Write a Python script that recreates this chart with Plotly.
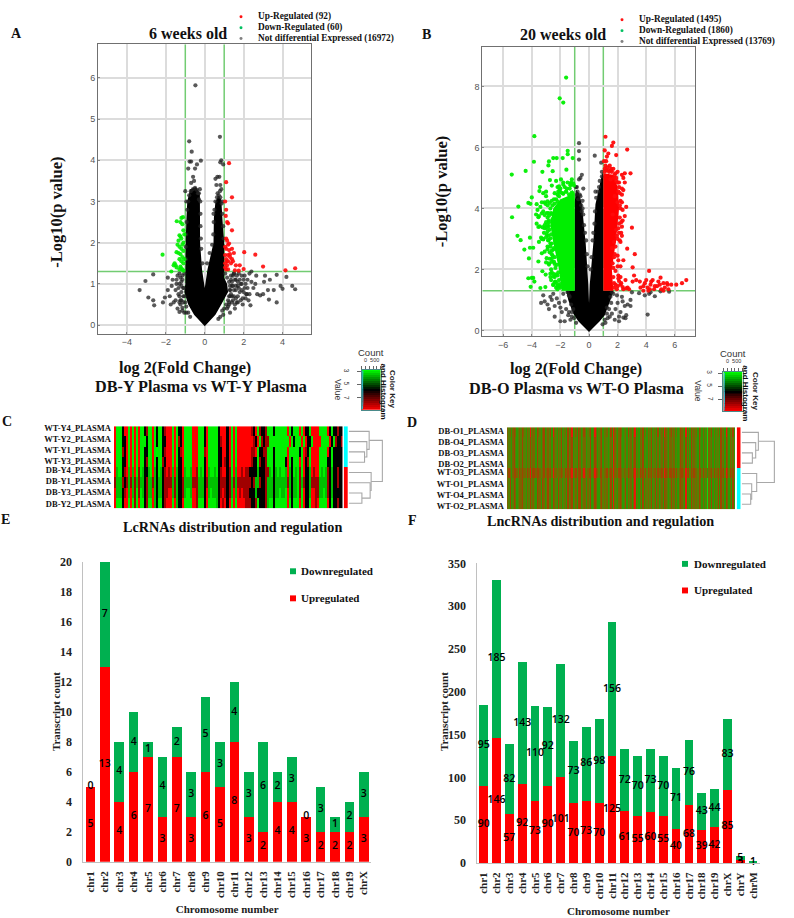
import plotly.graph_objects as go

W, H = 794, 918
SERIF = "Liberation Serif"
SANS = "Liberation Sans"

# ---------- volcano A ----------
A_cloud_x = [0,-0.55,-0.85,-1.05,-1.0,-1.0,-0.98,-0.95,-0.9,-0.75,-0.45,-0.25,-0.25,-0.24,-0.14,0,0.14,0.3,0.45,0.47,0.55,0.7,0.85,0.92,1.0,1.0,1.0,1.15,1.2,0.85,0.55,0]
A_cloud_y = [-0.03,0.25,0.5,0.8,1.0,1.3,2.0,2.5,3.0,3.3,3.35,3.2,2.6,2.0,1.35,0.9,1.35,1.7,2.0,2.6,3.0,3.15,3.05,2.5,2.0,1.3,1.15,1.0,0.8,0.5,0.25,-0.03]
A_up_x = [1.25,1.1,1.4,1.05,1.1,1.08,1.15,1.2,1.4,1.1,1.15,1.2,1.05,1.1,1.25,1.4,1.5,2.03,2.6,3.0,4.65,4.15,1.05,1.2,1.3,1.1,1.4,1.2,1.05,1.15,1.35,1.8,2.0,1.55,1.75,1.1,1.2,1.05,1.25,1.3,1.45,1.15,1.6]
A_up_y = [3.93,3.47,3.1,3.0,2.8,2.65,2.5,2.47,2.3,2.1,2.05,1.95,1.9,1.85,1.82,1.85,1.75,1.77,1.71,1.42,1.38,1.33,1.7,1.7,1.65,1.6,1.6,1.55,1.5,1.45,1.5,1.45,1.36,1.33,1.32,1.35,1.35,1.4,1.98,1.72,1.55,1.55,1.45]
A_down_x = [-2.17,-1.44,-1.2,-1.12,-1.25,-1.15,-1.1,-1.3,-1.25,-1.2,-1.35,-1.1,-1.4,-1.3,-1.2,-1.1,-1.45,-1.35,-1.25,-1.15,-1.3,-1.2,-1.1,-1.55,-1.5,-1.45,-1.25,-1.15,-1.6,-1.72,-1.3,-1.1,-1.05,-1.05,-1.15,-1.22]
A_down_y = [1.71,2.52,2.6,2.62,2.5,2.45,2.3,2.18,2.15,2.1,2.05,2.0,1.95,1.9,1.85,1.8,1.77,1.75,1.72,1.65,1.6,1.55,1.5,1.5,1.45,1.4,1.42,1.35,1.45,1.3,1.35,1.32,2.2,1.6,1.95,1.38]
A_ns_x = [-0.48,-0.8,-0.67,0.78,-0.78,-0.7,-0.2,0.85,0.8,-0.4,0.95,-0.85,-0.5,0.65,0.75,0.55,-0.6,-0.55,-0.7,0.8,-0.25,-1.0,0.85,-0.35,-0.95,0.6,0.9,-0.3,
          -3.35,-3.05,-2.65,-2.9,-2.65,-2.6,-2.15,-2.05,-1.9,-1.9,-1.8,-1.75,-1.6,-1.5,-1.4,-1.3,-1.65,-1.4,-1.3,-1.2,-1.5,-1.25,-1.15,-1.1,-1.35,-1.2,-1.45,-1.7,-1.15,-1.3,-1.1,-1.25,
          4.65,4.5,4.2,4.0,3.9,3.7,3.7,3.55,3.35,3.3,3.25,3.1,3.05,3.0,2.85,2.65,2.35,2.4,2.2,2.0,1.8,1.6,1.4,2.6,2.7,2.5,2.3,2.2,2.1,2.0,1.9,1.85,1.7,1.6,1.5,1.45,1.35,1.3,2.4,2.25,2.05,1.95,1.75,1.6,1.5,1.4,1.3,1.85,2.15,2.3,1.25,1.2,1.3,1.55,1.4,1.65,1.75]
A_ns_y = [5.82,4.46,4.21,4.57,3.97,3.97,3.99,4.0,3.95,3.9,3.9,3.8,3.8,3.6,3.6,3.55,3.6,3.5,3.45,3.4,3.3,3.25,3.3,3.2,3.0,3.4,3.0,3.05,
          0.85,1.07,1.23,0.67,0.6,0.48,0.55,0.67,1.15,0.85,0.7,0.5,0.55,0.85,0.4,0.32,1.1,1.2,1.0,0.8,0.6,0.5,0.42,0.7,0.75,0.95,1.0,0.95,1.1,1.25,0.9,0.6,
          0.87,0.95,1.17,0.88,0.95,1.22,0.55,0.85,1.1,0.62,0.85,1.2,1.05,0.75,0.72,1.2,0.48,1.3,0.9,1.1,0.8,0.65,0.55,1.0,0.75,0.9,0.75,1.1,0.65,0.8,1.2,0.6,1.05,0.95,0.85,1.2,1.1,0.7,1.05,0.6,1.2,0.5,1.25,1.1,1.25,0.95,0.85,1.0,0.75,1.25,0.55,0.45,0.3,0.4,0.7,0.55,0.9]
A_edge_x = [-0.97,-0.98,-0.96,-0.93,-0.9,-0.85,-0.8,-0.72,-0.6,-0.5,-0.4,-0.3,-0.23,-0.22,-0.22,-0.2,-0.18,-0.12,0.12,0.25,0.38,0.44,0.46,0.5,0.55,0.63,0.72,0.8,0.87,0.9,0.95,0.97,0.66,0.45,0.78,
            -1.05,-1.15,-1.2,-1.1,-1.05,-1.0,-0.95,-1.1,-1.2,-0.85,-0.95,-0.75,1.05,1.15,1.25,1.3,1.3,1.25,1.2,1.1,1.0,0.9,0.95,0.8,0.7]
A_edge_y = [1.6,1.9,2.2,2.5,2.8,3.0,3.15,3.25,3.3,3.33,3.28,3.2,3.0,2.7,2.4,2.1,1.85,1.5,1.5,1.75,1.95,2.2,2.5,2.8,3.0,3.1,3.15,3.1,2.95,2.7,2.4,2.1,3.2,2.7,3.25,
            1.25,1.2,1.05,0.9,0.7,0.55,0.45,0.55,0.6,0.3,0.3,0.2,1.25,1.15,1.05,0.95,0.85,0.7,0.6,0.5,0.4,0.35,0.25,0.2,0.15]
A_low_x = [1.35,1.45,1.5,1.55,1.6,1.7,1.7,1.8,1.9,1.95,2.05,2.15,1.35,1.45,1.55,1.7,1.25,1.15,-1.3,-1.35,-1.45,-1.25,-1.3,-1.15,-1.05,1.4,1.5,1.65,1.9,2.1]
A_low_y = [0.75,0.95,0.7,1.1,0.85,0.95,0.7,1.1,0.85,0.65,0.9,0.75,1.2,0.6,0.5,0.55,0.5,0.4,0.7,0.9,1.1,1.15,0.55,0.35,0.3,1.05,1.25,1.2,1.0,1.0]

# ---------- volcano B ----------
B_cloud_x = [0,-0.35,-0.75,-1.1,-1.45,-1.6,-1.0,-1.0,-1.0,-0.9,-0.7,-0.5,-0.23,-0.05,0,0.05,0.3,0.45,0.6,0.85,0.95,1.0,1.0,1.7,1.5,1.1,0.75,0.35,0]
B_cloud_y = [-0.05,0.1,0.3,0.55,1.0,1.3,1.3,3.7,4.2,4.6,4.5,4.14,2.85,1.5,0.9,1.5,2.85,4.14,4.5,5.0,5.2,5.0,1.3,1.3,1.0,0.5,0.3,0.1,-0.05]
B_gm_x = [-1.0,-1.9,-2.1,-2.35,-2.55,-2.7,-2.5,-2.0,-1.5,-1.15,-1.0]
B_gm_y = [1.3,1.3,2.0,2.6,3.0,3.5,4.0,4.3,4.4,4.6,4.5]
B_rm_x = [1.0,1.7,1.6,1.9,2.1,2.0,1.7,1.0]
B_rm_y = [1.3,1.3,2.0,3.0,4.0,4.7,5.1,5.15]
B_up_x = [1.15,1.7,1.6,2.67,1.1,1.35,1.25,1.9,1.2,1.15,2.9,2.5,2.0,2.3,1.7,1.55,2.4,2.5,2.3,2.4,2.6,2.3,2.5,2.35,2.3,3.0,2.1,2.3,2.2,2.67,3.2,2.4,2.2,2.0,3.05,4.2,5.0,6.8,6.5,6.1,5.5,5.2,
          2.2,2.4,2.6,2.8,3.05,3.3,3.6,3.55,3.8,3.8,4.0,4.1,4.25,4.35,4.45,4.6,4.75,4.55,4.3,4.85,5.05,5.3,5.45,5.55,5.75,5.2,4.95,4.15,3.9,2.05,2.25,2.55,2.7,3.15,2.0,2.1,2.35,2.2,
          1.7,1.85,1.8,2.0,2.0,2.15,2.1,2.25,2.2,2.35,2.15,2.15,2.3,2.05,1.9,2.1,1.75,1.5,1.2,1.4,1.55,1.85,1.75,1.85,1.95,2.05,1.6,1.75,1.9,1.65,1.8,2.0,1.3,1.45,1.1,1.05,
          1.75,1.7,1.65,1.75,1.85,1.95,2.05,2.15,2.2,2.1,2.0,1.8,1.6,1.35,1.1,1.9,2.25,2.05]
B_up_y = [6.35,6.16,6.05,5.93,5.9,5.8,5.7,5.75,5.55,5.4,5.15,5.15,5.2,5.1,5.3,5.3,5.0,4.85,4.65,4.6,4.05,4.2,3.75,3.6,3.4,3.37,3.2,3.1,2.9,2.68,2.5,2.3,2.1,2.1,2.07,1.95,1.73,1.65,1.55,1.5,1.5,1.55,
          1.5,1.35,1.38,1.35,1.6,1.65,1.4,1.6,1.45,1.3,1.65,1.4,1.35,1.6,1.65,1.45,1.45,1.35,1.5,1.6,1.35,1.4,1.55,1.35,1.5,1.3,1.5,1.3,1.55,1.8,1.55,1.65,1.4,1.8,1.45,1.62,1.42,1.75,
          2.05,1.95,2.5,2.45,3.0,2.95,3.5,3.55,4.0,3.95,4.1,4.5,4.45,4.55,4.9,4.85,5.0,4.95,5.25,5.2,5.25,5.15,1.4,1.5,1.35,1.7,2.7,2.9,3.3,3.8,4.4,4.2,5.35,5.4,5.3,5.55,
          1.55,1.75,2.2,2.4,2.75,3.1,3.35,3.7,4.25,4.7,4.85,5.1,5.2,5.25,5.2,5.0,3.2,2.3]
B_down_x = [-1.6,-2.05,-1.8,-3.82,-3.85,-4.43,-5.4,-4.94,-5.38,-5.0,-4.78,-4.52,-4.2,-4.13,-4.13,-3.9,-4.0,-4.24,-3.9,-4.08,-3.82,-3.4,-3.05,-3.26,-3.03,-3.54,-3.3,-2.96,-3.26,-2.8,-2.84,-2.5,-2.26,-1.84,-1.49,-1.49,-1.14,-2.54,-1.58,-1.96,-2.73,-3.43,-3.47,-4,-4.24,-3.66,-3.54,-3.66,-3.54,
            -3.2,-3.0,-3.1,-2.9,-3.2,-2.85,-3.0,-3.15,-2.9,-3.3,-2.7,-2.9,-2.6,-2.8,-2.65,-2.45,-2.7,-2.35,-2.5,-2.85,-2.55,-2.3,-2.4,-2.6,-3.4,-3.0,-3.6,-3.3,-3.7,-3.5,-4.1,-3.2,-2.6,-2.2,-2.0,-1.8,-1.55,-1.3,-1.2,-2.3,-2.05,-2.8,-3.1,-2.95,-2.65,-2.45,-2.5,-2.6,-2.75,-2.25,-2.05,-2.2,-1.9,
            -2.0,-2.2,-2.4,-2.5,-2.3,-2.5,-2.7,-2.2,-2.4,-2.6,-2.8,-3.0,-2.6,-2.75,-2.9,-3.1,-2.7,-2.85,-3.0,-3.2,-3.35,-2.8,-2.95,-3.1,-3.25,-3.45,-2.6,-2.8,-2.95,-3.1,-3.3,-3.5,-2.2,-2.4,-2.6,-2.75,-2.9,-3.05,-1.2,-1.4,-1.6,-1.8,-2.0,-2.2,-2.4,-1.1,-1.3,-1.5,-1.8,-2.1,
            -2.0,-2.1,-2.15,-2.25,-2.4,-2.45,-2.6,-2.65,-2.75,-2.8,-2.65,-2.55,-2.3,-2.1,-1.85,-1.6,-1.35,-2.2,-2.35,-2.55,-2.7,-2.85,-2.9,-2.9,-2.7,-2.45,-2.15,-1.7,-1.25,-1.05]
B_down_y = [8.29,7.61,7.47,6.37,5.53,5.23,5.11,4.06,3.71,3.1,2.96,2.65,2.36,3.04,2.71,2.71,1.72,1.71,1.72,1.43,1.6,1.39,1.42,1.94,1.83,2.26,2.53,2.37,5.2,5.54,5.41,5.65,5.65,5.65,5.89,5.78,5.65,5.22,5.27,4.95,4.93,4.7,4.57,4.36,4.18,4.14,3.71,3.5,3.39,
            4.5,4.4,4.2,4.1,3.9,3.85,3.55,3.2,3.25,3.0,2.85,2.75,2.5,2.2,2.0,1.85,1.75,1.6,1.5,2.95,3.65,1.4,1.75,2.35,4.05,4.55,3.95,4.2,3.8,2.9,4.15,3.0,4.75,4.7,4.65,4.85,4.65,4.8,4.95,4.9,4.6,3.55,3.35,3.15,1.65,2.25,2.65,1.9,2.35,1.55,1.45,1.45,1.7,
            1.52,1.46,1.58,1.49,1.83,1.77,1.86,1.8,2.18,2.25,2.16,2.23,2.62,2.56,2.66,2.58,3.02,2.96,3.06,2.98,3.04,3.42,3.36,3.45,3.38,3.41,3.82,3.76,3.85,3.78,3.84,3.75,4.22,4.16,4.25,4.18,4.23,4.15,4.52,4.46,4.55,4.48,4.53,4.45,4.5,4.82,4.76,4.85,4.78,4.72,
            1.4,1.65,1.9,2.15,2.4,2.7,2.85,3.15,3.3,3.6,3.85,4.1,4.3,4.4,4.5,4.55,4.65,1.35,2.05,2.45,2.75,3.1,3.45,3.7,4.0,4.3,4.55,4.7,4.85,4.75]
B_ns_x = [-0.7,-0.7,-0.7,0.4,-0.6,-0.7,-0.5,0.85,0.9,0.9,-0.85,-0.8,-0.4,0.7,0.45,-0.6,-0.45,-0.75,-0.55,-0.5,
          -3.2,-3.35,-3.1,-2.9,-2.7,-2.5,-2.8,-2.4,-2.4,-2.0,-1.9,-1.7,-1.8,-2.1,-1.6,-2.25,-2.6,-2.0,-1.7,-1.45,-1.3,-1.4,
          4.1,2.6,2.4,2.55,2.1,2.7,2.9,2.9,2.3,2.5,2.2,3.0,3.5,3.9,4.2,4.6,5.0,5.6,4.3,2.0,1.85,1.7,2.1,1.6,1.95,2.35,1.8,1.5,
          -0.4,-0.35,-0.28,-0.2,-0.15,-0.1,-0.45,0.42,0.38,0.3,0.25,0.18,0.12,0.5,0.62,0.75,-0.65,-0.85,-0.92,
          -1.1,-1.25,-1.35,-1.5,-1.4,-1.2,-1.05,-0.9,-1.2,1.1,1.25,1.4,1.55,1.6,1.45,1.3,1.15,0.95,1.25]
B_ns_y = [6.14,5.88,5.6,5.73,5.0,4.95,5.1,5.5,5.2,5.05,4.7,4.55,4.65,4.7,4.55,4.4,4.25,4.3,4.1,3.9,
          1.15,0.9,0.95,0.85,1.1,1.2,0.7,0.8,0.45,0.3,0.6,0.3,1.2,0.9,0.7,1.05,1.0,0.75,0.95,0.5,0.35,1.15,
          0.52,0.5,0.42,0.4,0.3,0.85,0.8,1.0,1.1,0.8,0.6,1.25,1.22,1.15,1.2,1.12,1.28,1.27,1.25,0.9,0.7,1.2,0.45,0.55,1.15,0.95,0.35,1.1,
          3.8,3.45,3.2,2.95,2.5,2.1,4.0,3.9,3.5,3.2,2.95,2.4,2.0,4.35,4.55,4.9,4.45,4.45,4.7,
          0.7,0.85,1.1,1.25,0.6,0.45,0.4,0.25,0.6,0.35,0.55,0.7,0.9,1.25,0.45,0.4,0.25,0.2,0.75]

# ---------- heatmap C ----------
C_rows = ["WT-Y4_PLASMA","WT-Y2_PLASMA","WT-Y1_PLASMA","WT-Y3_PLASMA","DB-Y4_PLASMA","DB-Y1_PLASMA","DB-Y3_PLASMA","DB-Y2_PLASMA"]
C_label_rows = [-0.28,0.78,1.84,2.9,3.76,4.82,5.92,7.03]
C_z = [
"RGGGKRRGRGRGRGGKrGGRGKGGKrRRRGRGKKRGGGGRRRGGGKRGGGGGKRRRKRGRGRRRRRRRrKRGrKKrGGGKGGGGGGRGKGGGRGRKKGRRRRGGGGRKGKKrKK",
"RGGGKKRGRGRGRGGGKGGRGKGGKKRRRGRGrKRGGGGRRRGGGKRGGGGGKrRRKRGRGRRRRRRRRrKRGrKrrGGGGGGGGGGRGKGGGRGRKKGRRRRGGGGRKGrKKrKK",
"RGGGrKRGRGRGRGGKKGGRGGGGKrRRRGRGKrRGGGGRRRGGGrRGGGGGKKRRKRGRGRRRRRRRrrRGKKrrGGGKGGGGGGRGGGGGKGRrKGRRRRGGGGRKGKKKKKK",
"RGGGKKRGRGRGRGGKrGGRGKGGrKRRRGRGKKRGGGGRRRGGGKRGGGGGKKRrKRGRGRRRRRRRrKKGrKKrGGGKGGGGGKRGKGGGRGRKrGRRRRGGGGKKGKKKKKK",
"RgGGKrRgRgRGrGgKKgGRgKGgKrRrRgRgKKRgGGgRRrGgGKRgGGgGKrRRKrGRgRRrRrrKKKKgKKKrrgGKgGgGGgRgKGgGrGRKKgRrRRGgGgrKgKKrKKK",
"rgggrKrgrgrgrggKrggrgKggKrrrrgrgKKrggggrrrgggKrgggggKrrrKrgrgrrrrrrrKrggrKKrgggKggggggrgKggGrgrKKgrrrrggggrKgKKrKKK",
"RgggKrRgRgrGrGgKrggRgKggKrrRRgrgKKrgGGgRRrgggKRgGgggKrRrKrgRgRrRrrrKKKgKKKKrgggKggGggGRgKggGrGRKKgRRrrggGgrKgKKKKKK",
"RGGGKRRGRGrGRGGKrGGRgKGGKrRRRGRgKKRGGGGRRrGGGKRGGGGgKRrRKRGRGRRRRrrrKKrGKKKrgGGKGGGGGGRGKGGGRGRKKGRRrRGGGGRKGKKrKKK",
]
C_side = [0,0,0,0,1,1,1,1]
C_merge = [(48,2,3,0,0),(55,1,2.5,0,48),(62,0,1.75,0,55),(40,6,7,0,0),(65,5,6.5,0,40),(68,4,5.75,0,65),(102,0.875,4.875,62,68)]

# ---------- heatmap D ----------
D_rows = ["DB-O1_PLASMA","DB-O4_PLASMA","DB-O3_PLASMA","DB-O2_PLASMA","WT-O3_PLASMA","WT-O1_PLASMA","WT-O4_PLASMA","WT-O2_PLASMA"]
D_label_rows = [-0.09,0.97,2.03,3.1,3.9,5.0,6.1,7.2]
D_band = [
"3231343123 2432132523 3143213412 3241532132 4123142351 2314312431 2341253123 4132312415 3213431231 4231351213 2413132412 3141231532 1342313124 3215131423 2314313120 3241312314 2315313241",
"3221342123 2422132423 3142213412 3231432132 4122142341 2214312331 2241243123 4132212315 3213421231 3231341213 2412132412 3131231432 1332312124 3214131423 2214213120 3231312214 2314313231",
"3431344324 3433243524 4344323423 4342533233 4324343452 3424423532 3442354324 4233423425 3324432332 4332452324 3424243423 4243342543 2443424234 4325342434 3324424231 3342423424 3425424342",
"3241243123 3422132423 2143314312 4231432142 3123142341 2314412331 3241243113 4232312415 2213431241 3231351213 1413232412 4131231432 1242313134 3215121423 2324313120 3141312414 2314313141",
]
D_band_of_row = [0,1,1,1,2,3,3,3]
D_side = [1,1,1,1,0,0,0,0]
D_merge = [(32,2,3,0,0),(42,1,2.5,0,32),(50,0,1.75,0,42),(27,6,7,0,0),(30,5,6.5,0,27),(45,4,5.75,0,30),(98,0.875,4.875,50,45)]

# ---------- colour key ----------
KEY_levels = [i/20 for i in range(21)]
KEY_hist_x = [30,25,22,20,22,28,35,35,30,25,20]
KEY_hist_y = [0.02,0.1,0.2,0.3,0.4,0.5,0.6,0.7,0.8,0.9,0.98]

# ---------- bars E ----------
E_cats = ["chr1","chr2","chr3","chr4","chr5","chr6","chr7","chr8","chr9","chr10","chr11","chr12","chr13","chr14","chr15","chr16","chr17","chr18","chr19","chrX"]
E_up = [5,13,4,6,7,3,7,3,6,5,8,3,2,4,4,3,2,2,2,3]
E_down = [0,7,4,4,1,4,2,3,5,3,4,3,6,2,3,0,3,1,2,3]

# ---------- bars F ----------
F_cats = E_cats + ["chrY","chrM"]
F_up = [90,146,57,92,73,90,101,70,73,70,125,61,55,60,55,40,68,39,42,85,3,0]
F_down = [95,185,82,143,110,92,132,73,86,98,156,72,70,73,70,71,76,43,44,83,5,1]


def fx(p): return p / W
def fy(p): return 1 - p / H
def dom_x(a, b): return [fx(a), fx(b)]
def dom_y(top, bot): return [fy(bot), fy(top)]


fig = go.Figure()
layout = dict(width=W, height=H, margin=dict(l=0, r=0, t=0, b=0), paper_bgcolor="white",
              plot_bgcolor="white", showlegend=False)
shapes, notes = [], []


def text(s, x, y, size, bold=True, fam=SERIF, color="#111", angle=0, anchor="center"):
    notes.append(dict(text=s, x=fx(x), y=fy(y), xref="paper", yref="paper", showarrow=False,
                      xanchor=anchor, yanchor="middle", textangle=angle,
                      font=dict(family=fam, size=size, color=color, weight=700 if bold else 400)))


def dots(x, y, color, op, ax):
    fig.add_trace(go.Scatter(x=x, y=y, mode="markers", xaxis="x" + ax, yaxis="y" + ax, hoverinfo="skip",
                             marker=dict(size=4.2, color=color, opacity=op, line=dict(width=0))))


def mass(x, y, color, ax):
    fig.add_trace(go.Scatter(x=x, y=y, mode="lines", fill="toself", fillcolor=color, xaxis="x" + ax, yaxis="y" + ax,
                             line=dict(width=0, color=color), hoverinfo="skip"))


def volcano(ax, dx, dy, xr, yr, xt, yt):
    k = "" if ax == "1" else ax
    base = dict(showline=True, mirror=True, linecolor="#707070", linewidth=1, showgrid=True, gridcolor="#dcdcdc",
                gridwidth=2, zeroline=False, ticks="inside", ticklen=2, tickcolor="#888",
                tickfont=dict(family=SANS, size=9, color="#555"))
    layout["xaxis" + k] = dict(domain=dx, range=xr, tickvals=xt, anchor="y" + k, **base)
    layout["yaxis" + k] = dict(domain=dy, range=yr, tickvals=yt, anchor="x" + k, **base)
    for v in (-1, 1):
        shapes.append(dict(type="line", x0=v, x1=v, y0=yr[0], y1=yr[1], xref="x" + k, yref="y" + k,
                           line=dict(color="#72cc72", width=1.5), layer="below"))
    shapes.append(dict(type="line", x0=xr[0], x1=xr[1], y0=1.3, y1=1.3, xref="x" + k, yref="y" + k,
                       line=dict(color="#72cc72", width=1.5), layer="below"))


# volcano A
mass(A_cloud_x, A_cloud_y, "#000000", "")
dots(A_ns_x + A_edge_x + A_low_x, A_ns_y + A_edge_y + A_low_y, "#222222", 0.75, "")
dots(A_up_x, A_up_y, "#ff0a0a", 0.9, "")
dots(A_down_x, A_down_y, "#00ee00", 0.9, "")
volcano("1", dom_x(98, 311.3), dom_y(37.7, 331.7), [-5.49, 5.48], [-0.208, 6.82], [-4, -2, 0, 2, 4], [0, 1, 2, 3, 4, 5, 6])

# volcano B
mass(B_cloud_x, B_cloud_y, "#000000", "2")
dots(B_ns_x, B_ns_y, "#222222", 0.75, "2")
mass(B_gm_x, B_gm_y, "#00ee00", "2")
mass(B_rm_x, B_rm_y, "#ff0000", "2")
dots(B_up_x, B_up_y, "#ff0a0a", 0.95, "2")
dots(B_down_x, B_down_y, "#00ee00", 0.95, "2")
volcano("2", dom_x(482.3, 695.3), dom_y(40.7, 334.3), [-7.46, 7.43], [-0.19, 9.29], [-6, -4, -2, 0, 2, 4, 6], [0, 2, 4, 6, 8])

HM_C = [[0, "#00f000"], [0.25, "#00c000"], [0.5, "#000000"], [0.75, "#a00000"], [1, "#ff0000"]]
HM_D = [[0, "#10d810"], [0.2, "#2c9a04"], [0.4, "#568002"], [0.6, "#7a6400"], [0.8, "#a04400"], [1, "#e81808"]]
SIDE = [[0, "#00ffff"], [1, "#ff0000"]]
KEY = [[0, "#00ff00"], [0.5, "#000000"], [1, "#ff0000"]]
CMAP = {"G": 0, "g": 1, "K": 2, "r": 3, "R": 4}


def hidden(domain, rng, anchor, **kw):
    return dict(domain=domain, range=rng, anchor=anchor, showgrid=False, zeroline=False, showticklabels=False,
                ticks="", showline=False, **kw)


def cluster(ax0, z, zmin, zmax, scale, rows, label_rows, side, merges, hx, sidex, dx, ytop, ybot, maxh):
    n = [ax0, ax0 + 1, ax0 + 2]
    dy = dom_y(ytop, ybot)
    fig.add_trace(go.Heatmap(z=z, zmin=zmin, zmax=zmax, colorscale=scale, showscale=False, hoverinfo="skip",
                             xaxis=f"x{n[0]}", yaxis=f"y{n[0]}"))
    layout[f"xaxis{n[0]}"] = hidden(dom_x(*hx), [-0.5, len(z[0]) - 0.5], f"y{n[0]}")
    layout[f"yaxis{n[0]}"] = dict(domain=dy, range=[7.5, -0.5], anchor=f"x{n[0]}", tickvals=label_rows, ticktext=rows,
                                  showgrid=False, zeroline=False, ticks="", showline=False, ticklabelstandoff=2,
                                  tickfont=dict(family=SERIF, size=8.5, color="#111", weight=700))
    fig.add_trace(go.Heatmap(z=[[v] for v in side], zmin=0, zmax=1, colorscale=SIDE, showscale=False, hoverinfo="skip",
                             xaxis=f"x{n[1]}", yaxis=f"y{n[1]}"))
    layout[f"xaxis{n[1]}"] = hidden(dom_x(*sidex), [-0.5, 0.5], f"y{n[1]}")
    layout[f"yaxis{n[1]}"] = hidden(dy, [7.5, -0.5], f"x{n[1]}")
    xs, ys = [], []
    for h, y1, y2, h1, h2 in merges:
        xs += [h1, h, h, h2, None]
        ys += [y1, y1, y2, y2, None]
    fig.add_trace(go.Scatter(x=xs, y=ys, mode="lines", line=dict(color="#a8a8a8", width=1.1), hoverinfo="skip",
                             xaxis=f"x{n[2]}", yaxis=f"y{n[2]}"))
    layout[f"xaxis{n[2]}"] = hidden(dom_x(*dx), [0, maxh], f"y{n[2]}")
    layout[f"yaxis{n[2]}"] = hidden(dy, [7.5, -0.5], f"x{n[2]}")


def row_c(s): return [CMAP[c] for c in s.replace(" ", "")]
def row_d(s): return [int(c) for c in s.replace(" ", "")]


cz = [row_c(s) for s in C_z]
mc = min(len(r) for r in cz)
cz = [r[:mc] for r in cz]
cluster(3, cz, 0, 4, HM_C, C_rows, C_label_rows, C_side, C_merge, (114, 342.5), (343.7, 348), (348.7, 385), 425.7, 509.2, 110)
dz = [row_d(D_band[i]) for i in D_band_of_row]
md = min(len(r) for r in dz)
dz = [r[:md] for r in dz]
cluster(7, dz, 0, 5, HM_D, D_rows, D_label_rows, D_side, D_merge, (507, 735), (736.7, 740.7), (741.7, 776.7), 426.7, 510.2, 105)


def key(ax, box, ytop, ybot):
    fig.add_trace(go.Heatmap(z=[[v] for v in KEY_levels], zmin=0, zmax=1, colorscale=KEY, showscale=False, hoverinfo="skip",
                             x=[0, 500], y=KEY_levels, xaxis=f"x{ax}", yaxis=f"y{ax}"))
    fig.add_trace(go.Scatter(x=KEY_hist_x, y=KEY_hist_y, mode="lines", line=dict(color="#30c0d0", width=1), hoverinfo="skip",
                             xaxis=f"x{ax}", yaxis=f"y{ax}"))
    base = dict(showgrid=False, zeroline=False, showticklabels=False, mirror=True, showline=True, linecolor="#4a8a8a", linewidth=1)
    layout[f"xaxis{ax}"] = dict(domain=dom_x(*box), range=[0, 500], anchor=f"y{ax}", side="top", ticks="outside", ticklen=3,
                                tickcolor="#666", tickvals=[0, 100, 200, 300, 400, 500], **base)
    layout[f"yaxis{ax}"] = dict(domain=dom_y(ytop, ybot), range=[1.0, 0.0], anchor=f"x{ax}", ticks="outside", ticklen=4,
                                tickcolor="#666", tickvals=[0.03, 0.36, 0.7], **base)


key(6, (361.7, 380.7), 368.5, 409)
key(10, (723.3, 742.7), 370.7, 410.7)


def stacked(ax, cats, up, down, dx, ytop, ybot, ymax, dtick, bw, standoff):
    fig.add_trace(go.Bar(x=cats, y=up, marker=dict(color="#ff0000", line=dict(width=0)), width=bw, hoverinfo="skip",
                         xaxis=f"x{ax}", yaxis=f"y{ax}", name="Upregulated"))
    fig.add_trace(go.Bar(x=cats, y=down, marker=dict(color="#00b050", line=dict(width=0)), width=bw, hoverinfo="skip",
                         xaxis=f"x{ax}", yaxis=f"y{ax}", name="Downregulated"))
    lx, ly, lt = [], [], []
    for c, u, d in zip(cats, up, down):
        if u > 0:
            lx.append(c); ly.append(u / 2); lt.append(str(u))
        if d > 0 or u > 0:
            lx.append(c); ly.append(u + d / 2); lt.append(str(d))
    fig.add_trace(go.Scatter(x=lx, y=ly, text=lt, mode="text", textposition="middle center", cliponaxis=False, hoverinfo="skip",
                             textfont=dict(family="Open Sans", size=10.5, color="#000", weight=600), xaxis=f"x{ax}", yaxis=f"y{ax}"))
    bold11 = dict(family=SERIF, size=11, color="#222", weight=700)
    layout[f"xaxis{ax}"] = dict(domain=dom_x(*dx), anchor=f"y{ax}", type="category", categoryorder="array", categoryarray=cats,
                                range=[-0.5, len(cats) - 0.5], tickmode="array", tickvals=cats, ticktext=cats, tickangle=-90, tickfont=bold11,
                                showline=True, linecolor="#c0c0c0", linewidth=1, ticks="", ticklabelstandoff=4, showgrid=False, zeroline=False,
                                title=dict(text="Chromosome number", font=bold11, standoff=standoff))
    layout[f"yaxis{ax}"] = dict(domain=dom_y(ytop, ybot), anchor=f"x{ax}", range=[0, ymax], dtick=dtick, showline=True, linecolor="#c0c0c0",
                                linewidth=1, ticks="", ticklabelstandoff=8, showgrid=False, zeroline=False,
                                tickfont=dict(family=SERIF, size=12, color="#222", weight=700))


stacked(11, E_cats, E_up, E_down, (83.3, 371), 563.7, 868, 20, 2, 0.67, 8)
stacked(12, F_cats, F_up, F_down, (477.3, 759.5), 565, 869.3, 350, 50, 0.68, 8)
layout["barmode"] = "stack"


def sw(x0, y0, x1, y1, color, kind="rect"):
    shapes.append(dict(type=kind, x0=fx(x0), x1=fx(x1), y0=fy(y0), y1=fy(y1), xref="paper", yref="paper",
                       fillcolor=color, line=dict(width=0)))


# panel letters and titles
for s, x, y in [("A", 16, 27), ("B", 427, 28), ("C", 7, 421), ("D", 412, 422), ("E", 5, 520), ("F", 412, 521)]:
    text(s, x, y, 14)
text("6 weeks old", 187.5, 27, 16)
text("20 weeks old", 562.5, 28, 16)
text("-Log10(p value)", 57, 209, 16.5, angle=-90)
text("-Log10(p value)", 441, 187, 16.5, angle=-90)
text("log 2(Fold Change)", 185, 367, 16.2)
text("DB-Y Plasma vs WT-Y Plasma", 201, 386, 16.2)
text("log 2(Fold Change)", 576, 368, 16.2)
text("DB-O Plasma vs WT-O Plasma", 576, 388, 16.2)
text("LcRNAs distribution and regulation", 232, 528, 14.2)
text("LncRNAs distribution and regulation", 600, 522, 14.2)
text("Transcript count", 56, 716, 11, angle=-90, color="#222")
text("Transcript count", 444, 716, 11, angle=-90, color="#222")

for (dx, tx, ys, labels) in [
    (241, 256, (10, 21, 32), ("Up-Regulated (92)", "Down-Regulated (60)", "Not differential Expressed (16972)")),
    (622, 637, (13, 24, 35), ("Up-Regulated (1495)", "Down-Regulated (1860)", "Not differential Expressed (13769)")),
]:
    for y, lab, c in zip(ys, labels, ("#ff1010", "#00c060", "#808080")):
        sw(dx - 1.5, y - 1.5, dx + 1.5, y + 1.5, c, "circle")
        text(lab, tx, y, 9.3, anchor="left")

for sx, tx, y1, y2 in [(290, 299, 573, 600.5), (682, 691.7, 565.5, 592.5)]:
    sw(sx, y1 - 3, sx + 6, y1 + 3, "#00b050")
    sw(sx, y2 - 3, sx + 6, y2 + 3, "#ff0000")
    text("Downregulated", tx, y1, 11, anchor="left")
    text("Upregulated", tx, y2, 11, anchor="left")

# colour key labels
G = "#333"
for cx, kx, vx, colx, hx, ytick, county, midy in [
    (371, 346.7, 338, 393, 383.5, (369, 382, 396.7), 351, 388),
    (733, 710, 697.7, 756, 745.7, (371, 384, 398), 352, 390),
]:
    text("Count", cx, county, 9.5, bold=False, fam=SANS, color=G)
    text("0  500", cx, county + 7.5, 5.5, bold=False, fam=SANS, color=G)
    text("Value", vx, midy, 8.5, bold=False, fam=SANS, color=G, angle=90)
    for t, y in zip("357", ytick):
        text(t, kx, y, 6.5, bold=False, fam=SANS, color=G, angle=90)
    text("Color Key", colx, midy, 8, fam=SANS, color="#222", angle=90)
    text("and Histogram", hx, midy + 2, 8, fam=SANS, color="#111", angle=90)

layout["shapes"] = shapes
layout["annotations"] = notes
fig.update_layout(**layout)
fig.write_html("out.html", config={"displayModeBar": False},
               post_script="document.body.style.margin='0';document.documentElement.style.overflow='hidden';")
